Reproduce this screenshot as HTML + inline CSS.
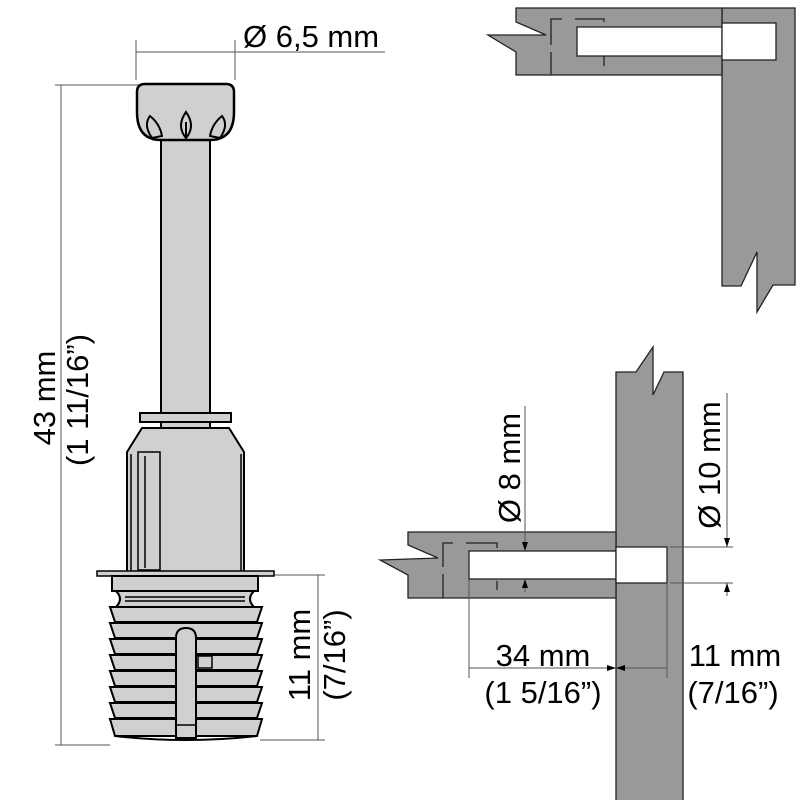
<!DOCTYPE html>
<html><head><meta charset="utf-8"><style>html,body{margin:0;padding:0;background:#fff}svg{display:block}</style></head><body>
<svg width="800" height="800" viewBox="0 0 800 800" xmlns="http://www.w3.org/2000/svg" font-family="Liberation Sans, sans-serif" font-size="31">
<defs>
<marker id="a" markerWidth="10" markerHeight="10" refX="9" refY="3" orient="auto" markerUnits="userSpaceOnUse"><path d="M0,0 L9,3 L0,6z" fill="#000"/></marker>
</defs>
<g stroke="#222" stroke-width="1.3" fill="#999">
<path d="M722,8 L795,8 L795,285 L773,285 L757,312 L757,252 L741,286 L722,286 Z"/>
<path d="M516,8 L722,8 L722,75 L516,75 L516,52 L488,35 L546,35 L516,22 Z"/>
<rect x="577" y="27" width="145" height="29" fill="#fff"/>
<rect x="722" y="23" width="54" height="37" fill="#fff"/>
</g>
<g stroke="#222" stroke-width="1.3" fill="none">
<path d="M551,75 V52 M551,45 V19 H562 M575,19 H604 V22 M604,56 V66"/>
</g>
<g stroke="#222" stroke-width="1.3" fill="#999">
<path d="M616,372 L636,372 L653,347 L653,395 L664,372 L683,372 L683,802 L616,802 Z"/>
<path d="M408,532 L616,532 L616,598 L408,598 L408,575 L380,560 L438,558 L408,545 Z"/>
<rect x="469" y="551" width="147" height="28" fill="#fff"/>
<rect x="616" y="547" width="51" height="36" fill="#fff"/>
</g>
<g stroke="#222" stroke-width="1.3" fill="none">
<path d="M443,598 V574 M443,567 V543 H453 M466,543 H497 V548 M497,581 V590"/>
</g>
<g stroke="#555" stroke-width="1" fill="none">
<line x1="525" y1="406" x2="525" y2="551" marker-end="url(#a)"/>
<line x1="525" y1="592" x2="525" y2="579" marker-end="url(#a)"/>
<line x1="727" y1="393" x2="727" y2="547" marker-end="url(#a)"/>
<line x1="727" y1="596" x2="727" y2="583" marker-end="url(#a)"/>
<line x1="670" y1="547" x2="733" y2="547"/>
<line x1="670" y1="583" x2="733" y2="583"/>
<line x1="469" y1="580" x2="469" y2="678"/>
<line x1="667" y1="583" x2="667" y2="678"/>
<line x1="469" y1="668" x2="616" y2="668" marker-end="url(#a)"/>
<line x1="667" y1="668" x2="616" y2="668" marker-end="url(#a)"/>
</g>
<text transform="translate(520,468) rotate(-90)" text-anchor="middle">Ø 8 mm</text>
<text transform="translate(720,465) rotate(-90)" text-anchor="middle">Ø 10 mm</text>
<text x="543" y="666" text-anchor="middle">34 mm</text>
<text x="543" y="703" text-anchor="middle">(1 5/16”)</text>
<text x="735" y="666" text-anchor="middle">11 mm</text>
<text x="733" y="703" text-anchor="middle">(7/16”)</text>
<g stroke="#555" stroke-width="1" fill="none">
<line x1="136" y1="40" x2="136" y2="80"/>
<line x1="235" y1="40" x2="235" y2="80"/>
<line x1="136" y1="52" x2="385" y2="52"/>
<line x1="61" y1="85" x2="61" y2="745"/>
<line x1="55" y1="85" x2="140" y2="85"/>
<line x1="55" y1="745" x2="110" y2="745"/>
<line x1="318" y1="575" x2="318" y2="740"/>
<line x1="260" y1="575" x2="325" y2="575"/>
<line x1="260" y1="740" x2="325" y2="740"/>
</g>
<text x="243" y="47">Ø 6,5 mm</text>
<text transform="translate(55,398) rotate(-90)" text-anchor="middle">43 mm</text>
<text transform="translate(88,400) rotate(-90)" text-anchor="middle">(1 11/16”)</text>
<text transform="translate(310,655) rotate(-90)" text-anchor="middle">11 mm</text>
<text transform="translate(345,655) rotate(-90)" text-anchor="middle">(7/16”)</text>
<g stroke="#000" stroke-width="2" fill="#d0d0d0">
<rect x="161" y="135" width="49" height="295"/>
<path d="M137,92 Q137,84 145,84 L226,84 Q234,84 234,92 L234,112 Q234,140 210,140 L161,140 Q137,140 137,112 Z" stroke-width="2.5"/>
<path d="M152,138 Q143,125 150,116 Q160,124 162,136 Z M186,138 Q176,126 186,112 Q196,126 186,138 Z M220,138 Q229,125 222,116 Q212,124 210,136 Z"/>
<line x1="186" y1="122" x2="186" y2="137"/>
<rect x="140" y="413" width="91" height="9"/>
<path d="M142,428 L229,428 L244,452 L244,572 L127,572 L127,452 Z"/>
<line x1="131" y1="454" x2="131" y2="572" stroke-width="1.5"/>
<line x1="241" y1="454" x2="241" y2="572" stroke-width="1.5"/>
<rect x="138" y="452" width="22" height="118" stroke-width="1.5"/>
<line x1="145" y1="456" x2="145" y2="568" stroke-width="1.5"/>
<rect x="97" y="571" width="177" height="5" stroke-width="1.5"/>
<rect x="112" y="576" width="146" height="15"/>
<path d="M116,591 Q124,599 116,607 L254,607 Q246,599 254,591 Z"/>
<line x1="125" y1="597" x2="245" y2="597" stroke-width="1.5"/>
<line x1="125" y1="601" x2="245" y2="601" stroke-width="1.5"/>
<path d="M110,607 L262,607 L257,622 L115,622 Z"/>
<path d="M110,623 L262,623 L257,638 L115,638 Z"/>
<path d="M110,639 L262,639 L257,654 L115,654 Z"/>
<path d="M110,655 L262,655 L257,670 L115,670 Z"/>
<path d="M110,671 L262,671 L257,686 L115,686 Z"/>
<path d="M110,687 L262,687 L257,702 L115,702 Z"/>
<path d="M110,703 L262,703 L257,718 L115,718 Z"/>
<path d="M110,719 L262,719 L257,736 L115,736 Z"/>
<path d="M115,736 Q186,744 257,736" fill="none"/>
<path d="M176,738 L176,638 Q176,628 186,628 Q196,628 196,638 L196,738 Z"/>
<line x1="176" y1="725" x2="196" y2="725" stroke-width="1.5"/>
<rect x="198" y="656" width="14" height="12" stroke-width="1.5"/>
</g>
</svg>
</body></html>
